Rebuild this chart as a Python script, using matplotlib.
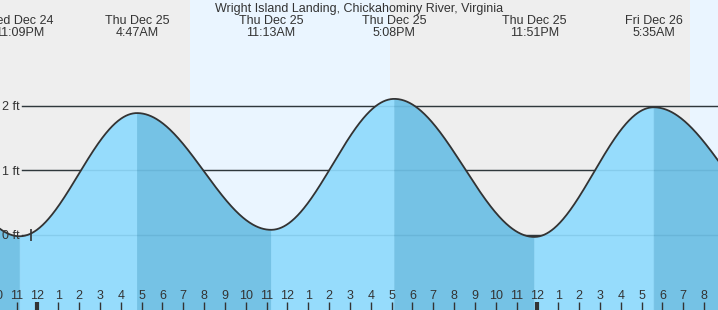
import numpy as np
import matplotlib
matplotlib.use("Agg")
import matplotlib.pyplot as plt
import matplotlib.transforms as mtransforms

plt.rcParams['font.family'] = ['Liberation Sans', 'DejaVu Sans']

# ---- data ----
title = "Wright Island Landing, Chickahominy River, Virginia"
# tide extremes: hours relative to Thu Dec 25 00:00, heights in ft
event_hours = [-7.0, -0.85, 4.783, 11.217, 17.133, 23.85, 29.583, 36.5]
event_heights = [2.00, -0.02, 1.89, 0.08, 2.11, -0.03, 1.98, 0.00]
event_day_labels = [None, "Wed Dec 24", "Thu Dec 25", "Thu Dec 25", "Thu Dec 25", "Thu Dec 25", "Fri Dec 26", None]
event_time_labels = [None, "11:09PM", "4:47AM", "11:13AM", "5:08PM", "11:51PM", "5:35AM", None]
day_starts = [7.33, 31.33]
day_ends = [16.93, 40.0]
now_hour = -0.32
y_levels = [0, 1, 2]
y_labels = ["0 ft", "1 ft", "2 ft"]
hour_ticks = list(range(-2, 33))
hour_labels = [str((h % 12) or 12) for h in hour_ticks]
midnights = [0, 24]

x_min, x_max = -1.795, 32.67
y_min, y_max = -1.163, 3.643

fig = plt.figure(figsize=(7.18, 3.10), dpi=100)
ax = fig.add_axes([0, 0, 1, 1])
ax.set_facecolor('#eeeeee')
for s in ax.spines.values():
    s.set_visible(False)
ax.set_yticks([])

# hour ticks and labels (set before limits: set_xticks may expand limits)
ax.set_xticks(hour_ticks)
ax.set_xticklabels(hour_labels)
ax.set_xlim(x_min, x_max)
ax.set_ylim(y_min, y_max)
ax.tick_params(axis='x', direction='in', length=6, width=1, pad=-7.7,
               colors='#333333', labelsize=9)
for lab in ax.get_xticklabels():
    lab.set_verticalalignment('baseline')
ax.xaxis.set_zorder(10)

trans_x = mtransforms.blended_transform_factory(ax.transData, ax.transAxes)
# hour labels that fall just outside the view (partially visible at the edge)
for h, lab in zip(hour_ticks, hour_labels):
    if h < x_min or h > x_max:
        ax.text(h, 10.7 / 310, lab, transform=trans_x, ha='center', va='baseline',
                fontsize=9, color='#333333', zorder=10, clip_on=False)

for a, b in zip(day_starts, day_ends):
    ax.axvspan(a, b, color='#eaf5ff', zorder=0, lw=0)

# level lines (behind fill) and faint repeat over fill
xstart = 22 / 718
for lv in y_levels:
    ax.axhline(lv, xmin=xstart, xmax=1, color='#333333', lw=1, zorder=1)
    ax.axhline(lv, xmin=xstart, xmax=1, color='#1a5d80', lw=1, alpha=0.12, zorder=3)

# tide curve: half-cosine between successive extremes
curve_t, curve_h = [], []
for i in range(len(event_hours) - 1):
    t0, t1 = event_hours[i], event_hours[i + 1]
    h0, h1 = event_heights[i], event_heights[i + 1]
    t = np.linspace(t0, t1, 200)
    h = h0 + (h1 - h0) * (1 - np.cos(np.pi * (t - t0) / (t1 - t0))) / 2
    color = '#96dcfc' if h1 > h0 else '#75c2e5'
    ax.fill_between(t, y_min, h, facecolor=color, edgecolor=color, lw=0.6, zorder=2)
    curve_t.append(t)
    curve_h.append(h)
ax.plot(np.concatenate(curve_t), np.concatenate(curve_h), color='#333333', lw=1.3, zorder=4)

# now marker
ax.plot([now_hour], [0], marker='|', markersize=8, color='#333333', mew=1.2, zorder=5)

# y labels (baseline ~4.5 px below each level line)
trans_y = mtransforms.blended_transform_factory(ax.transAxes, ax.transData)
trans_y_off = mtransforms.offset_copy(trans_y, fig=fig, y=-4.5, units='dots')
for lv, lab in zip(y_levels, y_labels):
    ax.text(2 / 718, lv, lab, transform=trans_y_off, ha='left', va='baseline',
            fontsize=9, color='#333333', zorder=6)

for m in midnights:
    ax.plot([m, m], [0, 8 / 310], transform=trans_x, color='#333333', lw=3,
            solid_capstyle='butt', zorder=11)

# event labels
for t, d, tm in zip(event_hours, event_day_labels, event_time_labels):
    if d is None:
        continue
    ax.text(t, 1 - 24.3 / 310, d, transform=trans_x, ha='center', va='baseline',
            fontsize=9, color='#333333')
    ax.text(t, 1 - 36 / 310, tm, transform=trans_x, ha='center', va='baseline',
            fontsize=9, color='#333333')

ax.text(0.5, 1 - 12 / 310, title, transform=ax.transAxes, ha='center', va='baseline',
        fontsize=9, color='#333333')

ax.set_xlim(x_min, x_max)
ax.set_ylim(y_min, y_max)

fig.savefig('out.png', dpi=100)
